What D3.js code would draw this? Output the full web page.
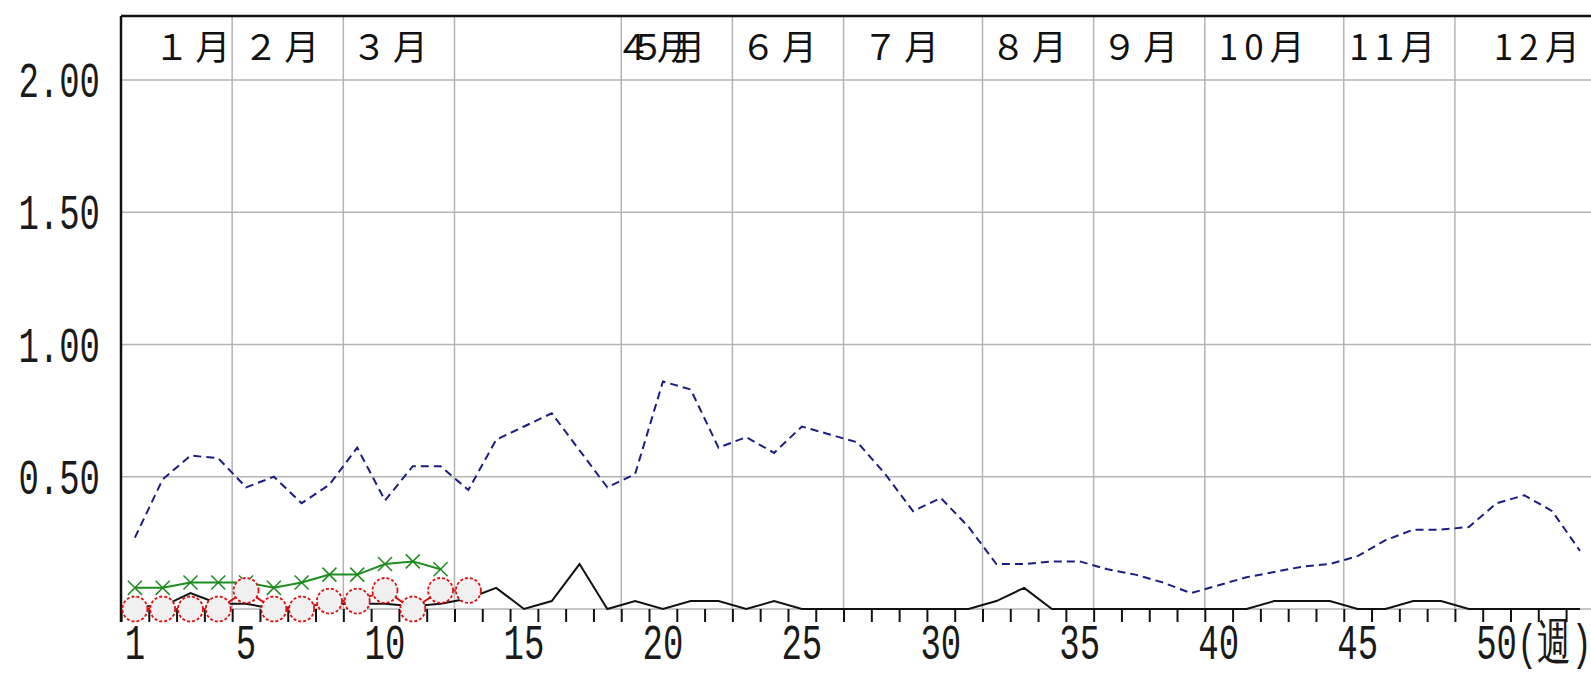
<!DOCTYPE html>
<html>
<head>
<meta charset="utf-8">
<script src="https://cdn.jsdelivr.net/npm/d3@7"></script>
<style>
  html, body { margin: 0; padding: 0; background: #fff; }
  #graphic { width: 1591px; height: 674px; overflow: hidden; }
  .grid line { stroke: #b4b4b4; stroke-width: 1.5; }
  .num { font-family: "Liberation Mono", "DejaVu Sans Mono", monospace; font-size: 50px; fill: #1a1a1a; }
  .month { font-family: "Noto Sans CJK JP", sans-serif; font-size: 35px; fill: #111; letter-spacing: 6px; }
</style>
</head>
<body>
<div id="graphic"></div>
<script>
// weekly values, week 1..53
const weeks = d3.range(1, 54);
const dashedVals = [0.27,0.49,0.58,0.57,0.46,0.50,0.40,0.47,0.61,0.41,
  0.54,0.54,0.45,0.64,0.69,0.74,0.60,0.46,0.51,0.86,
  0.83,0.61,0.65,0.59,0.69,0.66,0.63,0.51,0.37,0.42,
  0.31,0.17,0.17,0.18,0.18,0.15,0.13,0.10,0.06,0.09,
  0.12,0.14,0.16,0.17,0.20,0.26,0.30,0.30,0.31,0.40,
  0.43,0.37,0.22];
const blackVals = [0.01,0.01,0.06,0.02,0.02,0.00,0.01,0.02,0.02,0.02,
  0.01,0.02,0.04,0.08,0.00,0.03,0.17,0.00,0.03,0.00,
  0.03,0.03,0.00,0.03,0.00,0.00,0.00,0.00,0.00,0.00,
  0.00,0.03,0.08,0.00,0.00,0.00,0.00,0.00,0.00,0.00,
  0.00,0.03,0.03,0.03,0.00,0.00,0.03,0.03,0.00,0.00,
  0.00,0.00,0.00];
const greenVals = [0.08,0.08,0.10,0.10,0.10,0.08,0.10,0.13,0.13,0.17,0.18,0.15];
const redVals = [0,0,0,0,0.07,0,0,0.03,0.03,0.07,0,0.07,0.07];

// axis labels
const yTicks = [0.5, 1.0, 1.5, 2.0];
const yTickLabels = ["0.50", "1.00", "1.50", "2.00"];
const xLabelWeeks = [1, 5, 10, 15, 20, 25, 30, 35, 40, 45, 50];
const xLabels = ["1", "5", "10", "15", "20", "25", "30", "35", "40", "45", "50(週)"];
const monthNames = ["１月","２月","３月","４月","５月","６月","７月","８月","９月","10月","11月","12月"];
const monthLabelWeek = [1.7, 4.9, 8.8, 18.3, 18.8, 22.8, 27.2, 31.8, 35.8, 40.0, 44.7, 49.9];
const monthLineWeek = [4.5, 8.5, 12.5, 18.5, 22.5, 26.5, 31.5, 35.5, 39.5, 44.5, 48.5];

const weeklyChart = {
  el: "#graphic",
  left: 121,
  top: 16,
  zeroY: 609,
  weekW: 27.79,
  numScale: 0.68,
  parameters(){
    this.outerWidth = 1591;
    this.outerHeight = 674;
  },
  createScales(){
    this.xScale = d3.scaleLinear()
      .domain([0.5, 53.5])
      .range([this.left, this.left + 53 * this.weekW]);
    this.yScale = d3.scaleLinear()
      .domain([0, 2.242])
      .range([this.zeroY, this.top]);
  },
  drawPlot(){
    document.querySelector(this.el).innerHTML = "";
    this.svg = d3.select(this.el)
      .append("svg")
      .attr("width", this.outerWidth)
      .attr("height", this.outerHeight);
  },
  drawAxes(){
    const that = this;
    const x = this.xScale, y = this.yScale;

    const grid = this.svg.append("g").attr("class", "grid");
    // horizontal grid
    grid.selectAll(".hg")
      .data([0].concat(yTicks))
      .enter().append("line")
      .attr("x1", this.left).attr("x2", this.outerWidth)
      .attr("y1", d => y(d)).attr("y2", d => y(d));
    // month boundaries
    grid.selectAll(".vg")
      .data(monthLineWeek)
      .enter().append("line")
      .attr("x1", d => x(d)).attr("x2", d => x(d))
      .attr("y1", this.top).attr("y2", this.zeroY);

    // week ticks under the zero line
    const xAxis = d3.axisBottom(x)
      .tickValues(d3.range(0.5, 53, 1))
      .tickSize(13)
      .tickFormat("");
    const ax = this.svg.append("g")
      .attr("transform", `translate(0, ${this.zeroY})`)
      .call(xAxis);
    ax.select(".domain").remove();
    ax.selectAll(".tick line").attr("stroke", "#111").attr("stroke-width", 2);

    // frame: top and left
    this.svg.append("line")
      .attr("x1", this.left).attr("x2", this.outerWidth)
      .attr("y1", this.top).attr("y2", this.top)
      .attr("stroke", "#111").attr("stroke-width", 2.5);
    this.svg.append("line")
      .attr("x1", this.left).attr("x2", this.left)
      .attr("y1", this.top).attr("y2", this.zeroY + 13)
      .attr("stroke", "#111").attr("stroke-width", 2.5);

    // y labels
    this.svg.selectAll(".ylab")
      .data(yTicks)
      .enter().append("text")
      .attr("class", "num")
      .attr("text-anchor", "end")
      .attr("transform", d => `translate(100, ${y(d) + 17}) scale(${that.numScale}, 1)`)
      .text((d, i) => yTickLabels[i]);

    // x labels
    const last = xLabels.length - 1;
    this.svg.selectAll(".xlab")
      .data(xLabelWeeks)
      .enter().append("text")
      .attr("class", "num")
      .attr("text-anchor", (d, i) => i === last ? "start" : "middle")
      .attr("x", (d, i) => i === last ? -30 : 0)
      .attr("transform", d => `translate(${x(d)}, 659) scale(${that.numScale}, 1)`)
      .text((d, i) => xLabels[i]);

    // month labels
    this.svg.selectAll(".mlab")
      .data(monthNames)
      .enter().append("text")
      .attr("class", "month")
      .attr("x", (d, i) => x(monthLabelWeek[i]))
      .attr("y", 60)
      .text(d => d);
  },
  drawData(){
    const x = this.xScale, y = this.yScale;
    const line = d3.line()
      .x(d => x(d[0]))
      .y(d => y(d[1]));

    const pairs = vals => vals.map((v, i) => [weeks[i], v]);

    this.svg.append("path")
      .attr("d", line(pairs(dashedVals)))
      .attr("fill", "none")
      .attr("stroke", "#1c1c85")
      .attr("stroke-width", 2)
      .attr("stroke-dasharray", "8,5");

    this.svg.append("path")
      .attr("d", line(pairs(blackVals)))
      .attr("fill", "none")
      .attr("stroke", "#111")
      .attr("stroke-width", 2);

    // green series with x markers
    const green = pairs(greenVals);
    this.svg.append("path")
      .attr("d", line(green))
      .attr("fill", "none")
      .attr("stroke", "#1e8c1e")
      .attr("stroke-width", 2);
    const cross = d3.symbol().type(d3.symbolX).size(130);
    this.svg.selectAll(".gx")
      .data(green)
      .enter().append("path")
      .attr("d", cross)
      .attr("transform", d => `translate(${x(d[0])}, ${y(d[1])})`)
      .attr("fill", "none")
      .attr("stroke", "#1e8c1e")
      .attr("stroke-width", 1.5);

    // red series with open circles
    const red = pairs(redVals);
    this.svg.append("path")
      .attr("d", line(red))
      .attr("fill", "none")
      .attr("stroke", "#e01010")
      .attr("stroke-width", 2);
    this.svg.selectAll(".rc")
      .data(red)
      .enter().append("circle")
      .attr("cx", d => x(d[0]))
      .attr("cy", d => y(d[1]))
      .attr("r", 12.5)
      .attr("fill", "#f0f0f0")
      .attr("stroke", "#e01010")
      .attr("stroke-width", 1.8)
      .attr("stroke-dasharray", "3,2");
  },
  draw(){
    this.parameters();
    this.createScales();
    this.drawPlot();
    this.drawAxes();
    this.drawData();
  }
};

weeklyChart.draw();
</script>
</body>
</html>
